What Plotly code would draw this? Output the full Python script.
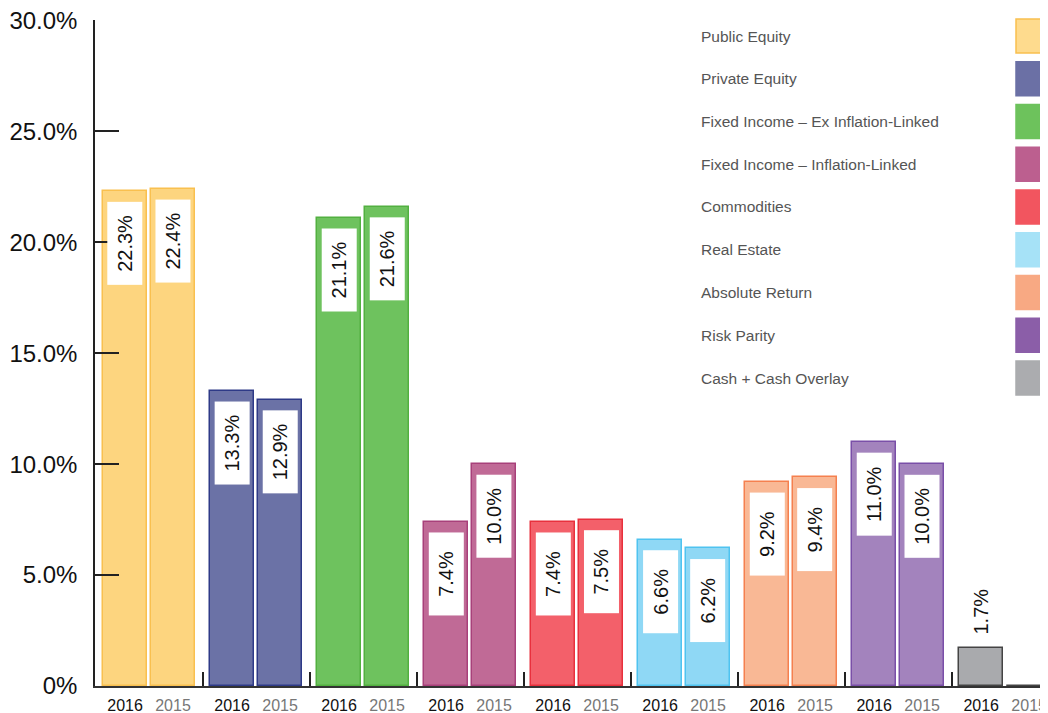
import plotly.graph_objects as go

categories = [
    "Public Equity",
    "Private Equity",
    "Fixed Income – Ex Inflation-Linked",
    "Fixed Income – Inflation-Linked",
    "Commodities",
    "Real Estate",
    "Absolute Return",
    "Risk Parity",
    "Cash + Cash Overlay",
]
alloc_2016 = [22.3, 13.3, 21.1, 7.4, 7.4, 6.6, 9.2, 11.0, 1.7]
alloc_2015 = [22.4, 12.9, 21.6, 10.0, 7.5, 6.2, 9.4, 10.0, 0.0]
years = ["2016", "2015"]
y_ticks = [0, 5, 10, 15, 20, 25, 30]
y_ticktext = ["0%", "5.0%", "10.0%", "15.0%", "20.0%", "25.0%", "30.0%"]

FILL = ["#FDD57F", "#6B72A6", "#6EC25E", "#C06A96", "#F3606A",
        "#8FD8F5", "#F9B895", "#A383BD", "#A9AAAD"]
EDGE = ["#F9C04F", "#2E3A87", "#52B040", "#A8407A", "#E8303D",
        "#4FC3F0", "#F5804F", "#7A4FA8", "#444444"]
SWATCH = ["#FEDB8E", "#6B70A5", "#6DC25C", "#BC5F8F", "#F2555F",
          "#A6E2F7", "#F8A983", "#8B5EA8", "#ABACAF"]

SANS = "Liberation Sans, Arial, sans-serif"

# page geometry (the page body has an 8px default margin)
W, H = 1048, 713
PAD = 8
L, R, T, B = 95 - PAD, PAD, 20 - PAD, 27 + PAD
OFF, BW = 0.224, 0.41


def px_x(px):
    # screen x -> paper x
    return (px - PAD - L) / (W - L - R)


def px_y(py):
    # screen y -> paper y
    return (H - B - (py - PAD)) / (H - T - B)


pos_2016 = [i - OFF for i in range(len(categories))]
pos_2015 = [i + OFF for i in range(len(categories))]

fig = go.Figure()
for pos, vals in ((pos_2016, alloc_2016), (pos_2015, alloc_2015)):
    fig.add_trace(go.Bar(
        x=pos, y=vals, width=BW,
        marker=dict(color=FILL, line=dict(color=EDGE, width=1.5)),
        showlegend=False, hoverinfo="skip",
    ))

# value labels
for pos, vals in ((pos_2016, alloc_2016), (pos_2015, alloc_2015)):
    for x, v in zip(pos, vals):
        if v <= 0:
            continue
        txt = f"{v:.1f}%"
        if v > 4:
            fig.add_annotation(
                x=x, y=v, text=txt, textangle=-90, showarrow=False,
                yanchor="top", yshift=-10, bgcolor="white",
                width=80, height=32, borderpad=1,
                font=dict(family=SANS, size=20, color="#111"),
            )
        else:
            fig.add_annotation(
                x=x, y=v, text=txt, textangle=-90, showarrow=False,
                yanchor="bottom", yshift=12,
                font=dict(family=SANS, size=20, color="#111"),
            )

# legend: text on the left, swatches on the right edge
for i, (name, col) in enumerate(zip(categories, SWATCH)):
    top = 19 + 42.75 * i
    fig.add_shape(
        type="rect", xref="paper", yref="paper",
        x0=px_x(1016), x1=px_x(1052), y0=px_y(top + 34), y1=px_y(top),
        fillcolor=col, line=dict(color="#F9C04F" if i == 0 else col, width=1.5),
    )
    fig.add_annotation(
        xref="paper", yref="paper", x=px_x(699), y=px_y(top + 17),
        xanchor="left", yanchor="middle", text=name, showarrow=False,
        font=dict(family=SANS, size=15.5, color="#555"),
    )

xt_vals, xt_text = [], []
for a, b in zip(pos_2016, pos_2015):
    xt_vals += [a, b]
    xt_text += [years[0], f"<span style='color:#777'>{years[1]}</span>"]

fig.update_layout(
    width=W, height=H,
    margin=dict(l=L, r=R, t=T, b=B, autoexpand=False),
    plot_bgcolor="white", paper_bgcolor="white",
    bargap=0, barmode="overlay",
    xaxis=dict(
        range=[-0.505, 8.40], tickmode="array", tickvals=xt_vals, ticktext=xt_text,
        ticks="", showgrid=False, zeroline=False,
        showline=True, linecolor="#333", linewidth=2,
        tickfont=dict(family=SANS, size=16, color="#111"),
        ticklabelstandoff=4,
        minor=dict(tickmode="array", tickvals=[i + 0.5 for i in range(8)],
                   ticks="inside", ticklen=14, tickcolor="#222", tickwidth=1.5),
    ),
    yaxis=dict(
        range=[0, 30.02], tickmode="array", tickvals=y_ticks, ticktext=y_ticktext,
        ticks="inside", ticklen=24, tickcolor="#222", tickwidth=1.5,
        showgrid=False, zeroline=False,
        showline=True, linecolor="#222", linewidth=1.5,
        tickfont=dict(family=SANS, size=24, color="#111"),
        ticklabelstandoff=11, ticklabeloverflow="allow",
    ),
)

fig.write_html("out.html")
